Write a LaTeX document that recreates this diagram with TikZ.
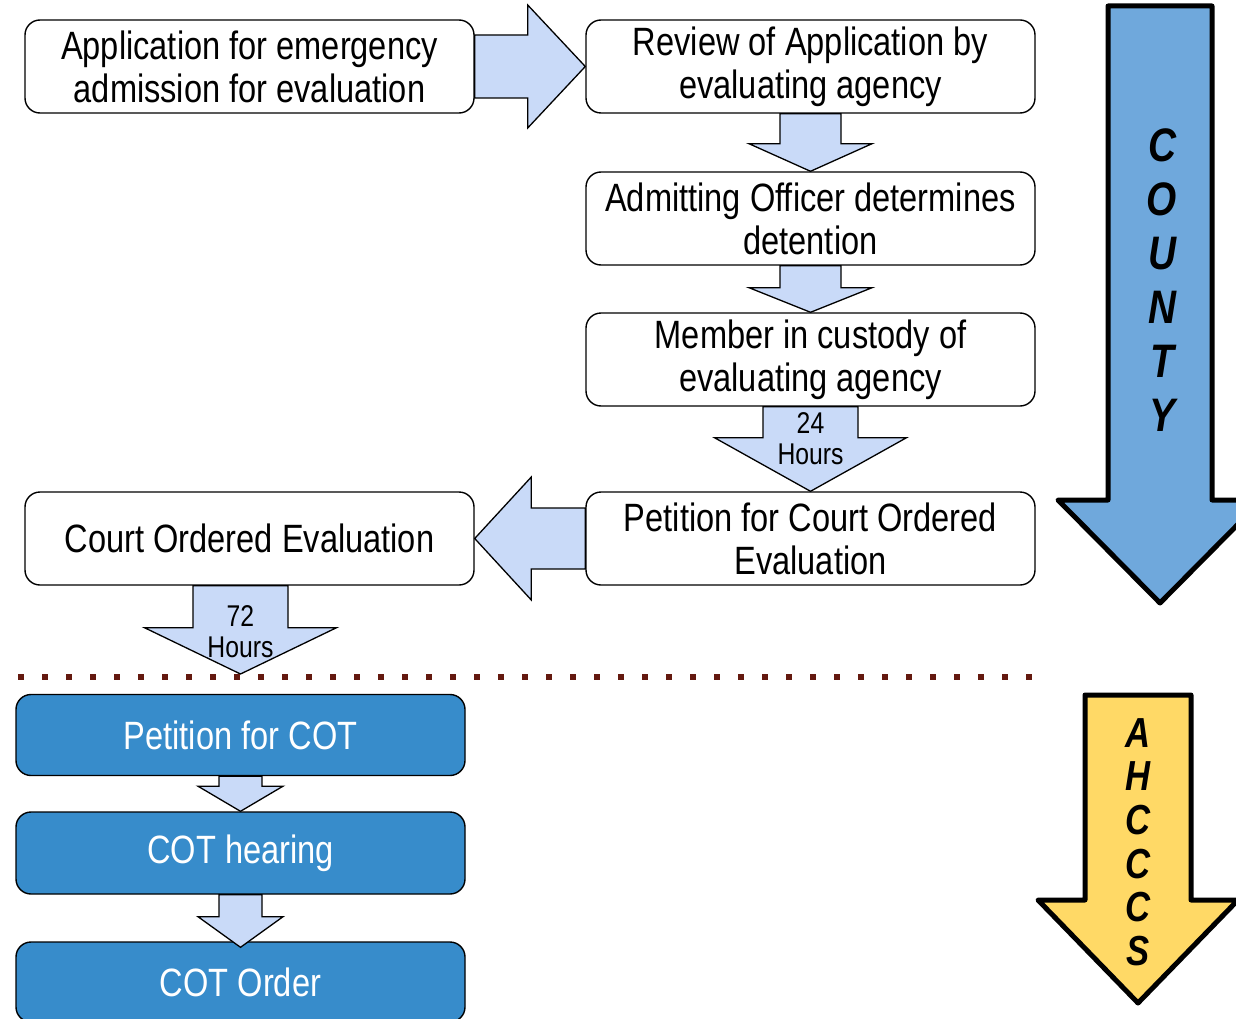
\documentclass[tikz,border=0pt]{standalone}
\usepackage{fontspec}
\setmainfont[FakeStretch=0.825]{Liberation Sans}
\usetikzlibrary{%
  arrows,%
  shapes,%
  positioning,% wg. " of "
  calc%
}
\definecolor{arrowblue}{RGB}{201,218,248}
\definecolor{cotblue}{RGB}{55,140,203}
\definecolor{countyblue}{RGB}{111,168,220}
\definecolor{ahcccsyellow}{RGB}{255,217,102}
\definecolor{dotbrown}{RGB}{100,25,15}

\begin{document}
\begin{tikzpicture}[
  x=1pt, y=-1pt,
  font=\fontsize{39.5}{43}\selectfont,
  evalbox/.style={rectangle, minimum height=93pt, minimum width=449pt, inner sep=0pt, align=center, draw=black, line width=1.4pt, fill=white, rounded corners=15pt},
  cotbox/.style={evalbox, minimum height=81pt, fill=cotblue, text=white},
  blockarrow/.style={draw=black, line width=1.3pt, fill=arrowblue, line join=miter},
  bigarrow/.style={draw=black, line width=5pt, line join=round},
  hours/.style={align=center, inner sep=0pt, font=\fontsize{30}{31}\selectfont},
  bigletters/.style={align=center, inner sep=0pt},
  splitline/.style={draw=dotbrown, line width=6pt, dash pattern=on 6pt off 18pt}
]
\useasboundingbox (0,0) rectangle (1236,1019);

% county part
\node[evalbox] (appl) at (249.5,66.5) {Application for emergency\\admission for evaluation};
\node[evalbox] (review) at (810.5,66.5) {Review of Application by\\evaluating agency};
\node[evalbox] (admit) at (810.5,218.5) {Admitting Officer determines\\detention};
\node[evalbox] (custody) at (810.5,359.5) {Member in custody of\\evaluating agency};
\node[evalbox] (petition) at (810.5,538.5) {Petition for Court Ordered\\Evaluation};
\node[evalbox] (courteval) at (249.5,538.5) {Court Ordered Evaluation};

% AHCCCS part
\node[cotbox] (cotpet) at (240.5,735) {Petition for COT};
\node[cotbox, minimum height=82pt] (cothear) at (240.5,853) {COT hearing};
\node[cotbox, minimum height=80pt] (cotorder) at (240.5,982) {COT Order};

\draw[blockarrow] ($(appl.east)+(0,-31.5)$) -- ++(53,0) -- ++(0,-30) -- (review.west) -- ($(appl.east)+(53,61.5)$) -- ++(0,-30) -- ($(appl.east)+(0,31.5)$) -- cycle;
\draw[blockarrow] ($(review.south)+(-30.5,0)$) -- ++(0,30) -- ++(-31,0) -- (admit.north) -- ($(review.south)+(61.5,30)$) -- ++(-31,0) -- ++(0,-30) -- cycle;
\draw[blockarrow] ($(admit.south)+(-30.5,0)$) -- ++(0,22) -- ++(-31,0) -- (custody.north) -- ($(admit.south)+(61.5,22)$) -- ++(-31,0) -- ++(0,-22) -- cycle;
\draw[blockarrow] ($(custody.south)+(-47.5,0)$) -- ++(0,31) -- ++(-48.5,0) -- (petition.north) -- ($(custody.south)+(96,31)$) -- ++(-48.5,0) -- ++(0,-31) -- cycle;
\node[hours] (hrs24) at ($(custody.south)+(0,32)$) {24\\Hours};
\draw[blockarrow] ($(petition.west)+(0,-30.5)$) -- ++(-54,0) -- ++(0,-31) -- (courteval.east) -- ($(petition.west)+(-54,61.5)$) -- ++(0,-31) -- ($(petition.west)+(0,30.5)$) -- cycle;

% split between county and AHCCCS
\coordinate (splitL) at (18,677);
\coordinate (splitR) at (1035,677);
\coordinate (hrs72top) at (cotpet.north |- courteval.south);
\draw[blockarrow] ($(hrs72top)+(-47.5,0)$) -- ++(0,42) -- ++(-48.5,0) -- ($(cotpet.north |- splitL)+(0,-3)$) -- ($(hrs72top)+(96,42)$) -- ++(-48.5,0) -- ++(0,-42) -- cycle;
\node[hours] (hrs72) at ($(hrs72top)+(0,46)$) {72\\Hours};
\draw[splitline] (splitL) -- (splitR);

\draw[blockarrow] ($(cotpet.south)+(-21.5,0)$) -- ++(0,10) -- ++(-21,0) -- (cothear.north) -- ($(cotpet.south)+(42.5,10)$) -- ++(-21,0) -- ++(0,-10) -- cycle;
\draw[blockarrow] ($(cothear.south)+(-21.5,0)$) -- ++(0,22) -- ++(-21,0) -- ($(cotorder.north)+(0,6)$) -- ($(cothear.south)+(42.5,22)$) -- ++(-21,0) -- ++(0,-22) -- cycle;

% side arrows
\draw[bigarrow, fill=countyblue] (1108,6) -- (1212,6) -- (1212,500) -- (1262,500) -- (1160,603) -- (1058,500) -- (1108,500) -- cycle;
\node[bigletters, font=\fontsize{47}{54}\selectfont\bfseries\itshape] (county) at (1162,280) {C\\O\\U\\N\\T\\Y};
\draw[bigarrow, fill=ahcccsyellow] (1085,695) -- (1191,695) -- (1191,900) -- (1238,900) -- (1138,1003) -- (1038,900) -- (1085,900) -- cycle;
\node[bigletters, font=\fontsize{42}{43.6}\selectfont\bfseries\itshape] (ahcccs) at (1138,842) {A\\H\\C\\C\\C\\S};
\end{tikzpicture}
\end{document}
